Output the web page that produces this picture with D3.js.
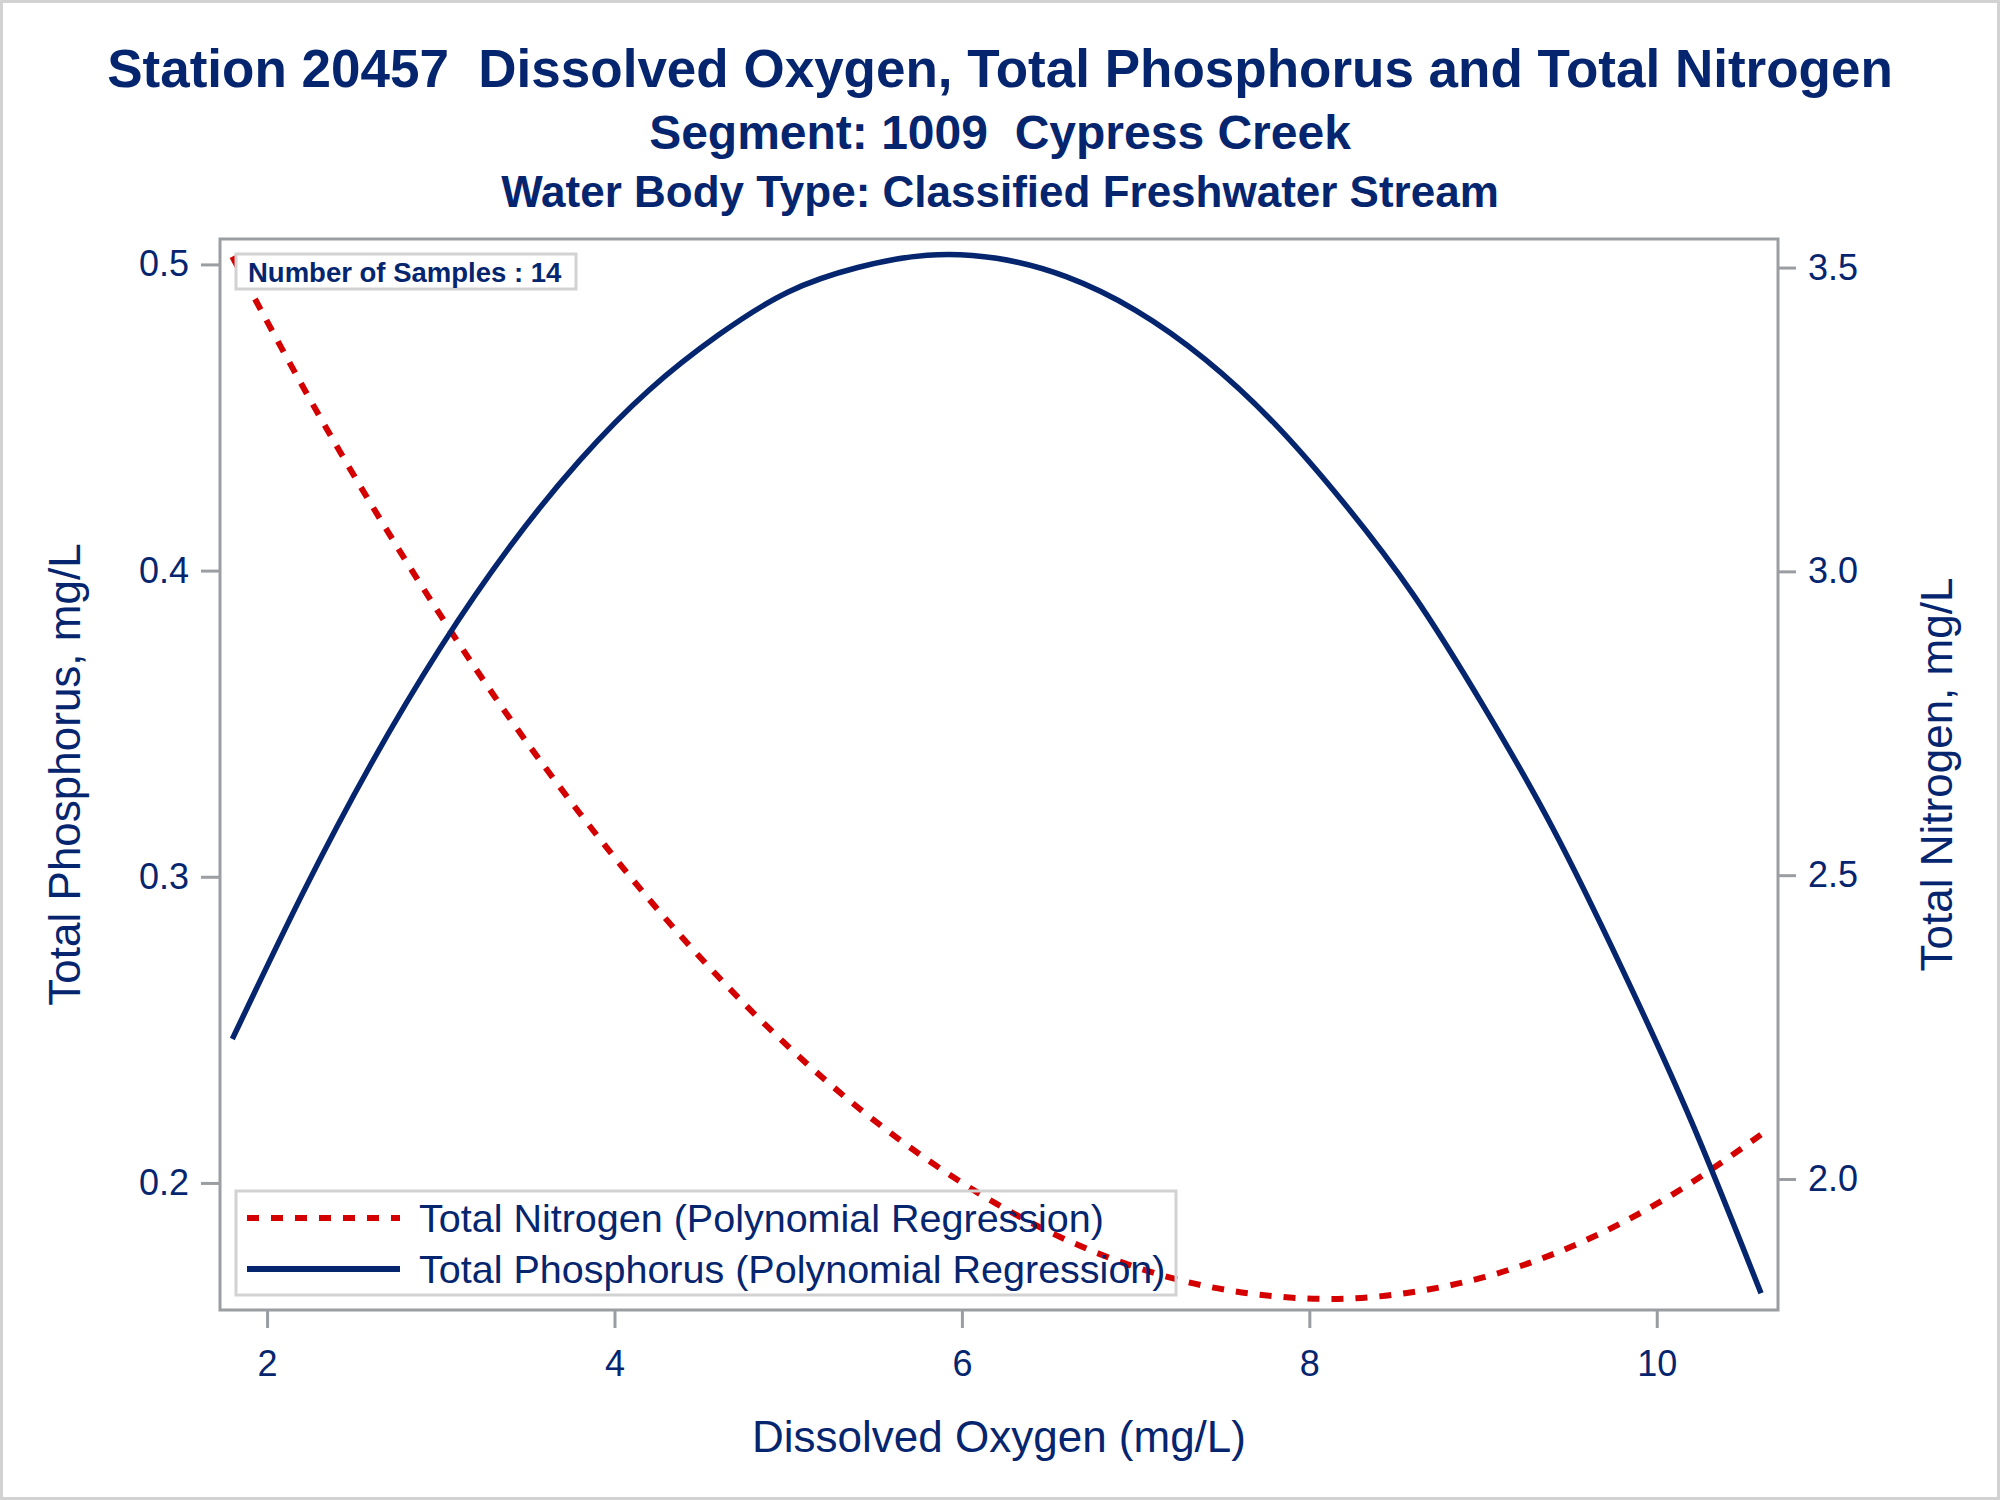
<!DOCTYPE html>
<meta charset="utf-8">
<style>
body { margin: 0; background: #fff; }
text { font-family: "Liberation Sans", Arial, sans-serif; fill: #06256f; white-space: pre; }
</style>
<svg id="thevis" width="2000" height="1500"></svg>
<script src="https://d3js.org/d3.v7.min.js"></script>
<script>

// values
var doValues = [1.8, 2.2, 2.6, 3.0, 3.4, 3.8, 4.2, 4.6, 5.0, 5.4, 5.8, 6.2,
                6.6, 7.0, 7.4, 7.8, 8.2, 8.6, 9.0, 9.4, 9.8, 10.2, 10.6];
var tpFit = [0.247, 0.294, 0.337, 0.375, 0.408, 0.436, 0.459, 0.477, 0.491,
             0.499, 0.503, 0.502, 0.496, 0.485, 0.469, 0.448, 0.422, 0.392,
             0.356, 0.316, 0.270, 0.220, 0.164];
var tnFit = [3.518, 3.307, 3.110, 2.927, 2.757, 2.602, 2.460, 2.332, 2.218,
             2.118, 2.032, 1.959, 1.900, 1.855, 1.824, 1.807, 1.803, 1.814,
             1.838, 1.876, 1.928, 1.994, 2.073];

var xTicks = [2, 4, 6, 8, 10];
var tpTicks = [0.2, 0.3, 0.4, 0.5];
var tnTicks = [2.0, 2.5, 3.0, 3.5];

var titles = ["Station 20457  Dissolved Oxygen, Total Phosphorus and Total Nitrogen",
              "Segment: 1009  Cypress Creek",
              "Water Body Type: Classified Freshwater Stream"];
var legendLabels = ["Total Nitrogen (Polynomial Regression)",
                    "Total Phosphorus (Polynomial Regression)"];
var nSamples = 14;

var navy = "#06256f", red = "#d40000", frameGray = "#9a9da1", lightGray = "#d2d2d2";

var svg = d3.select("svg");
var plot = {left: 220, top: 239, right: 1778, bottom: 1310};

// outer border
svg.append("rect").attr("x", 1.5).attr("y", 1.5).attr("width", 1997).attr("height", 1497)
    .attr("fill", "#fff").attr("stroke", lightGray).attr("stroke-width", 3);

// titles
var titleSpec = [[87, 53], [149, 48], [207, 44]];
svg.selectAll(".title").data(titles).enter().append("text")
    .attr("x", 1000).attr("y", (d, i) => titleSpec[i][0])
    .attr("text-anchor", "middle").attr("font-weight", "bold")
    .attr("font-size", (d, i) => titleSpec[i][1] + "px")
    .text(d => d);

var x = d3.scaleLinear().domain([1.729, 10.698]).range([plot.left, plot.right]);
var yTP = d3.scaleLinear().domain([0.1585, 0.5083]).range([plot.bottom, plot.top]);
var yTN = d3.scaleLinear().domain([1.7844, 3.547]).range([plot.bottom, plot.top]);

function styleAxis(g) {
    g.select(".domain").remove();
    g.selectAll(".tick line").attr("stroke", frameGray).attr("stroke-width", 3);
    g.selectAll(".tick text").attr("fill", navy).attr("font-size", "36px")
        .attr("font-family", "Liberation Sans, Arial, sans-serif");
}

svg.append("g").attr("transform", "translate(0," + plot.bottom + ")")
    .call(d3.axisBottom(x).tickValues(xTicks).tickSize(18).tickPadding(22).tickSizeOuter(0))
    .call(styleAxis);
svg.append("g").attr("transform", "translate(" + plot.left + ",0)")
    .call(d3.axisLeft(yTP).tickValues(tpTicks).tickFormat(d3.format(".1f"))
          .tickSize(19).tickPadding(12).tickSizeOuter(0))
    .call(styleAxis);
svg.append("g").attr("transform", "translate(" + plot.right + ",0)")
    .call(d3.axisRight(yTN).tickValues(tnTicks).tickFormat(d3.format(".1f"))
          .tickSize(18).tickPadding(12).tickSizeOuter(0))
    .call(styleAxis);

// axis labels
var midY = (plot.top + plot.bottom) / 2;
svg.append("text").attr("x", (plot.left + plot.right) / 2).attr("y", 1452)
    .attr("text-anchor", "middle").attr("font-size", "44px").text("Dissolved Oxygen (mg/L)");
svg.append("text").attr("transform", "translate(80," + midY + ") rotate(-90)")
    .attr("text-anchor", "middle").attr("font-size", "44px").text("Total Phosphorus, mg/L");
svg.append("text").attr("transform", "translate(1952," + midY + ") rotate(-90)")
    .attr("text-anchor", "middle").attr("font-size", "44px").text("Total Nitrogen, mg/L");

// curves
svg.append("clipPath").attr("id", "clip").append("rect")
    .attr("x", plot.left).attr("y", plot.top)
    .attr("width", plot.right - plot.left).attr("height", plot.bottom - plot.top);

var tpLine = d3.line().curve(d3.curveNatural)
    .x((d, i) => x(doValues[i])).y(d => yTP(d));
var tnLine = d3.line().curve(d3.curveNatural)
    .x((d, i) => x(doValues[i])).y(d => yTN(d));

var curves = svg.append("g").attr("clip-path", "url(#clip)");
curves.append("path").datum(tnFit).attr("d", tnLine)
    .attr("fill", "none").attr("stroke", red).attr("stroke-width", 6)
    .attr("stroke-dasharray", "12 12");
curves.append("path").datum(tpFit).attr("d", tpLine)
    .attr("fill", "none").attr("stroke", navy).attr("stroke-width", 5.5);

// plot frame
svg.append("rect").attr("x", plot.left).attr("y", plot.top)
    .attr("width", plot.right - plot.left).attr("height", plot.bottom - plot.top)
    .attr("fill", "none").attr("stroke", frameGray).attr("stroke-width", 3);

// sample count inset
svg.append("rect").attr("x", 236).attr("y", 254).attr("width", 340).attr("height", 35)
    .attr("fill", "#fff").attr("stroke", lightGray).attr("stroke-width", 3);
svg.append("text").attr("x", 248).attr("y", 282).attr("font-size", "27.5px")
    .attr("font-weight", "bold").text("Number of Samples : " + nSamples);

// legend
svg.append("rect").attr("x", 236).attr("y", 1191).attr("width", 940).attr("height", 104)
    .attr("fill", "none").attr("stroke", lightGray).attr("stroke-width", 3);
var legendStyle = [{stroke: red, dash: "12 12", w: 6}, {stroke: navy, dash: null, w: 6}];
var legRows = svg.selectAll(".leg").data(legendLabels).enter().append("g")
    .attr("transform", (d, i) => "translate(0," + (1218 + i * 51) + ")");
legRows.append("line").attr("x1", 247).attr("x2", 400).attr("y1", 0).attr("y2", 0)
    .attr("stroke", (d, i) => legendStyle[i].stroke)
    .attr("stroke-width", (d, i) => legendStyle[i].w)
    .attr("stroke-dasharray", (d, i) => legendStyle[i].dash);
legRows.append("text").attr("x", 419).attr("y", 14).attr("font-size", "39.5px").text(d => d);

</script>
